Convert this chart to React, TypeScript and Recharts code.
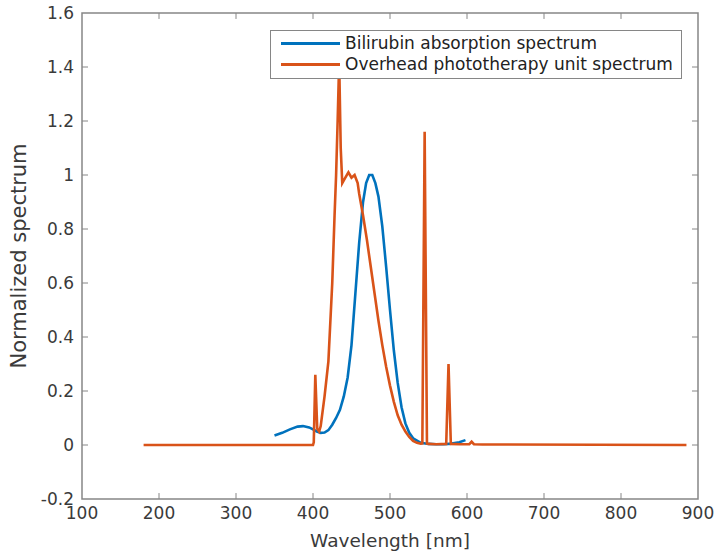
import {
  LineChart,
  Line,
  XAxis,
  YAxis,
  ReferenceArea,
  ReferenceLine,
} from "recharts";

const FONT = "DejaVu Sans";
const AXIS = "#868686";
const TEXT = "#3a3a3a";
const BLUE = "#0072BD";
const ORANGE = "#D95319";

// bilirubin absorption
const bilirubinWl = [
  350, 360, 370, 380, 387, 395, 400, 405, 410, 415, 420, 425, 430, 435, 440, 445, 450, 455, 460, 465,
  469, 473, 477, 481, 485, 490, 495, 500, 505, 510, 515, 520, 525, 530, 540, 550, 560, 570, 580, 590, 598,
];
const bilirubinVal = [
  0.035, 0.045, 0.058, 0.068, 0.07, 0.065, 0.058, 0.05, 0.045, 0.046, 0.055, 0.075, 0.1, 0.13, 0.18, 0.25,
  0.37, 0.56, 0.75, 0.9, 0.97, 1.0, 1.0, 0.97, 0.92, 0.81, 0.66, 0.5, 0.35, 0.23, 0.14, 0.08, 0.045, 0.025,
  0.008, 0.004, 0.003, 0.003, 0.005, 0.01, 0.018,
];

// overhead phototherapy unit
const lampWl = [
  180, 400, 401, 403, 405.5, 408, 410, 415, 420, 425, 428, 430, 432, 434, 436, 438, 442, 446, 450, 454,
  458, 460, 465, 470, 475, 480, 485, 490, 495, 500, 505, 510, 515, 520, 525, 530, 535, 540, 542, 545,
  548, 550, 560, 573, 576, 579, 590, 603, 606, 609, 620, 885,
];
const lampVal = [
  0, 0, 0.01, 0.26, 0.06, 0.05, 0.07, 0.18, 0.31, 0.6, 0.85, 1.0, 1.2, 1.42, 1.1, 0.97, 0.99, 1.01, 0.99,
  1.0, 0.97, 0.93, 0.85, 0.76, 0.66, 0.56, 0.46, 0.37, 0.29, 0.22, 0.16, 0.11, 0.075, 0.05, 0.03, 0.015,
  0.008, 0.005, 0.006, 1.16, 0.005, 0.004, 0.003, 0.004, 0.3, 0.004, 0.003, 0.003, 0.012, 0.003, 0.002, 0,
];

const xTicks = [100, 200, 300, 400, 500, 600, 700, 800, 900];
const yTicks = [-0.2, 0, 0.2, 0.4, 0.6, 0.8, 1, 1.2, 1.4, 1.6];

const bilirubin = bilirubinWl.map((x, i) => ({ x, y: bilirubinVal[i] }));
const lamp = lampWl.map((x, i) => ({ x, y: lampVal[i] }));

const legendItems = [
  { label: "Bilirubin absorption spectrum", color: BLUE },
  { label: "Overhead phototherapy unit spectrum", color: ORANGE },
];

// MATLAB-style boxed legend, laid over the plot
function MatlabLegend() {
  return (
    <div
      style={{
        position: "absolute",
        left: 270,
        top: 30,
        background: "#fff",
        border: `1.5px solid ${AXIS}`,
        padding: "2px 8px 3px 10px",
        fontFamily: FONT,
        fontSize: 17,
        color: "#222",
        lineHeight: "21px",
      }}
    >
      {legendItems.map((it) => (
        <div key={it.label} style={{ display: "flex", alignItems: "center" }}>
          <span style={{ display: "inline-block", width: 59, height: 3, background: it.color, marginRight: 5 }} />
          <span>{it.label}</span>
        </div>
      ))}
    </div>
  );
}

const fmt = (v: number) => String(Math.round(v * 10) / 10);

export default function App() {
  const tickX = 7.8; // inward tick length in x units (~6px)
  const tickY = 0.022; // inward tick length in y units (~6px)
  return (
    <div style={{ position: "absolute", left: 0, top: 0, width: 715, height: 557, background: "#fff" }}>
      <LineChart width={715} height={557} margin={{ top: 13, right: 17, bottom: 8, left: 0 }}>
        <XAxis
          dataKey="x"
          type="number"
          domain={[100, 900]}
          ticks={xTicks}
          allowDataOverflow
          height={50}
          axisLine={false}
          tickLine={false}
          tick={{ fill: TEXT, fontSize: 17, fontFamily: FONT }}
          label={{ value: "Wavelength [nm]", position: "insideBottom", offset: 2, fill: TEXT, fontSize: 18.5, fontFamily: FONT }}
        />
        <YAxis
          type="number"
          domain={[-0.2, 1.6]}
          ticks={yTicks}
          allowDataOverflow
          width={82}
          axisLine={false}
          tickLine={false}
          tickFormatter={fmt}
          tick={{ fill: TEXT, fontSize: 17, fontFamily: FONT }}
          label={{
            content: (p: any) => {
              const vb = p.viewBox;
              const cx = vb.x + 26;
              const cy = vb.y + vb.height / 2;
              return (
                <text
                  x={cx}
                  y={cy}
                  transform={`rotate(-90 ${cx} ${cy})`}
                  textAnchor="middle"
                  fill={TEXT}
                  fontSize={21}
                  fontFamily={FONT}
                >
                  Normalized spectrum
                </text>
              );
            },
          }}
        />
        <ReferenceArea x1={100} x2={900} y1={-0.2} y2={1.6} fill="none" stroke={AXIS} strokeWidth={1.5} />
        {yTicks.slice(1, -1).map((v) => (
          <ReferenceLine key={"yl" + v} segment={[{ x: 100, y: v }, { x: 100 + tickX, y: v }]} stroke={AXIS} />
        ))}
        {yTicks.slice(1, -1).map((v) => (
          <ReferenceLine key={"yr" + v} segment={[{ x: 900 - tickX, y: v }, { x: 900, y: v }]} stroke={AXIS} />
        ))}
        {xTicks.slice(1, -1).map((v) => (
          <ReferenceLine key={"xb" + v} segment={[{ x: v, y: -0.2 }, { x: v, y: -0.2 + tickY }]} stroke={AXIS} />
        ))}
        {xTicks.slice(1, -1).map((v) => (
          <ReferenceLine key={"xt" + v} segment={[{ x: v, y: 1.6 - tickY }, { x: v, y: 1.6 }]} stroke={AXIS} />
        ))}
        <Line
          data={bilirubin}
          dataKey="y"
          type="linear"
          stroke={BLUE}
          strokeWidth={2.6}
          dot={false}
          isAnimationActive={false}
          name="Bilirubin absorption spectrum"
        />
        <Line
          data={lamp}
          dataKey="y"
          type="linear"
          stroke={ORANGE}
          strokeWidth={2.6}
          dot={false}
          isAnimationActive={false}
          name="Overhead phototherapy unit spectrum"
        />
      </LineChart>
      <MatlabLegend />
    </div>
  );
}
